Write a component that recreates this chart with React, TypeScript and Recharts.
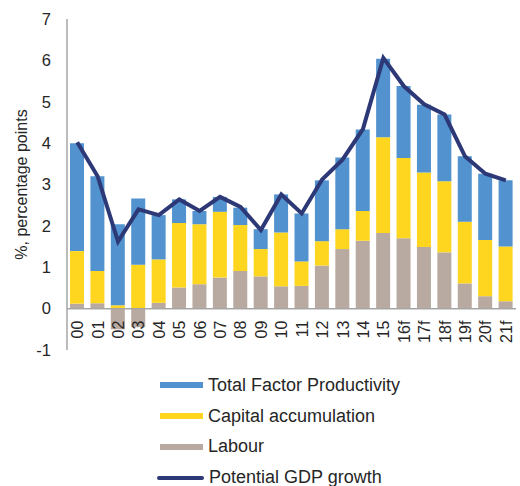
import { ComposedChart, Bar, Line, XAxis, YAxis, ReferenceLine } from 'recharts';

const categories = ['00', '01', '02', '03', '04', '05', '06', '07', '08', '09', '10', '11', '12', '13', '14', '15', '16f', '17f', '18f', '19f', '20f', '21f'];
const labour = [0.12, 0.13, -0.5, -0.45, 0.14, 0.51, 0.59, 0.75, 0.91, 0.78, 0.54, 0.55, 1.04, 1.44, 1.64, 1.83, 1.7, 1.49, 1.36, 0.61, 0.3, 0.18];
const capital = [1.27, 0.78, 0.08, 1.06, 1.05, 1.56, 1.45, 1.59, 1.11, 0.66, 1.3, 0.59, 0.59, 0.48, 0.72, 2.31, 1.94, 1.8, 1.72, 1.49, 1.36, 1.32];
const tfp = [2.61, 2.29, 1.96, 1.6, 1.07, 0.57, 0.32, 0.36, 0.42, 0.48, 0.92, 1.16, 1.47, 1.73, 1.97, 1.9, 1.74, 1.64, 1.61, 1.58, 1.6, 1.6];
const potential = [4.02, 3.2, 1.62, 2.4, 2.26, 2.64, 2.36, 2.7, 2.46, 1.9, 2.76, 2.3, 3.12, 3.6, 4.34, 6.06, 5.38, 4.94, 4.69, 3.68, 3.26, 3.1];
const yTicks = [-1, 0, 1, 2, 3, 4, 5, 6, 7];

const data = categories.map((c, i) => ({
  year: c,
  labour: labour[i],
  capital: capital[i],
  tfp: tfp[i],
  potential: potential[i],
}));

const legendItems = [
  { name: 'Total Factor Productivity', color: '#5192CF', type: 'bar' },
  { name: 'Capital accumulation', color: '#FFD61F', type: 'bar' },
  { name: 'Labour', color: '#B8AAA0', type: 'bar' },
  { name: 'Potential GDP growth', color: '#2D3877', type: 'line' },
];

const font = '"Liberation Sans", Arial, sans-serif';
const PLOT_TOP = 19;
const PLOT_BOTTOM = 350;
// one y unit in px, x labels hang from the zero line, not the bottom of the plot
const UNIT = (PLOT_BOTTOM - PLOT_TOP) / 8;

if (typeof document !== 'undefined') document.body.style.margin = '0';

const XTick = (props: any) => {
  const { x, y, payload } = props;
  return (
    <text
      transform={`translate(${x + 6},${y - UNIT + 12}) rotate(-90)`}
      textAnchor="end"
      fill="#262626"
      fontSize={16}
      fontFamily={font}
    >
      {payload.value}
    </text>
  );
};

export default function App() {
  return (
    <div style={{ position: 'relative', width: 520, height: 486, background: '#fff', overflow: 'hidden' }}>
      <ComposedChart
        width={520}
        height={486}
        data={data}
        stackOffset="sign"
        margin={{ top: PLOT_TOP, right: 4, left: 0, bottom: 0 }}
      >
        <XAxis
          dataKey="year"
          axisLine={false}
          tickLine={false}
          tickSize={0}
          tickMargin={0}
          height={486 - PLOT_BOTTOM}
          interval={0}
          tick={<XTick />}
        />
        <YAxis
          domain={[-1, 7]}
          ticks={yTicks}
          width={67}
          tickLine={false}
          axisLine={{ stroke: '#A6A6A6', strokeWidth: 1.5 }}
          tick={{ fill: '#262626', fontSize: 16.5, fontFamily: font }}
          tickMargin={10}
          label={{
            value: '%, percentage points',
            angle: -90,
            position: 'insideLeft',
            offset: 21,
            style: { textAnchor: 'middle', fill: '#262626', fontSize: 16, fontFamily: font },
          }}
        />
        <ReferenceLine y={0} stroke="#A6A6A6" strokeWidth={1.5} />
        <Bar dataKey="labour" stackId="a" fill="#B8AAA0" barSize={14} isAnimationActive={false} />
        <Bar dataKey="capital" stackId="a" fill="#FFD61F" barSize={14} isAnimationActive={false} />
        <Bar dataKey="tfp" stackId="a" fill="#5192CF" barSize={14} isAnimationActive={false} />
        <Line
          dataKey="potential"
          type="linear"
          stroke="#2D3877"
          strokeWidth={4}
          dot={false}
          isAnimationActive={false}
        />
      </ComposedChart>
      <div style={{ position: 'absolute', left: 160, top: 370, fontFamily: font, fontSize: 18, color: '#262626' }}>
        {legendItems.map((it) => (
          <div key={it.name} style={{ display: 'flex', alignItems: 'center', height: 30.8, whiteSpace: 'nowrap' }}>
            <span
              style={{
                display: 'inline-block',
                width: it.type === 'line' ? 47 : 43,
                height: it.type === 'line' ? 4.5 : 6,
                marginLeft: it.type === 'line' ? -3 : 0,
                marginRight: 5,
                borderRadius: it.type === 'line' ? 2.5 : 0,
                background: it.color,
              }}
            />
            {it.name}
          </div>
        ))}
      </div>
    </div>
  );
}
